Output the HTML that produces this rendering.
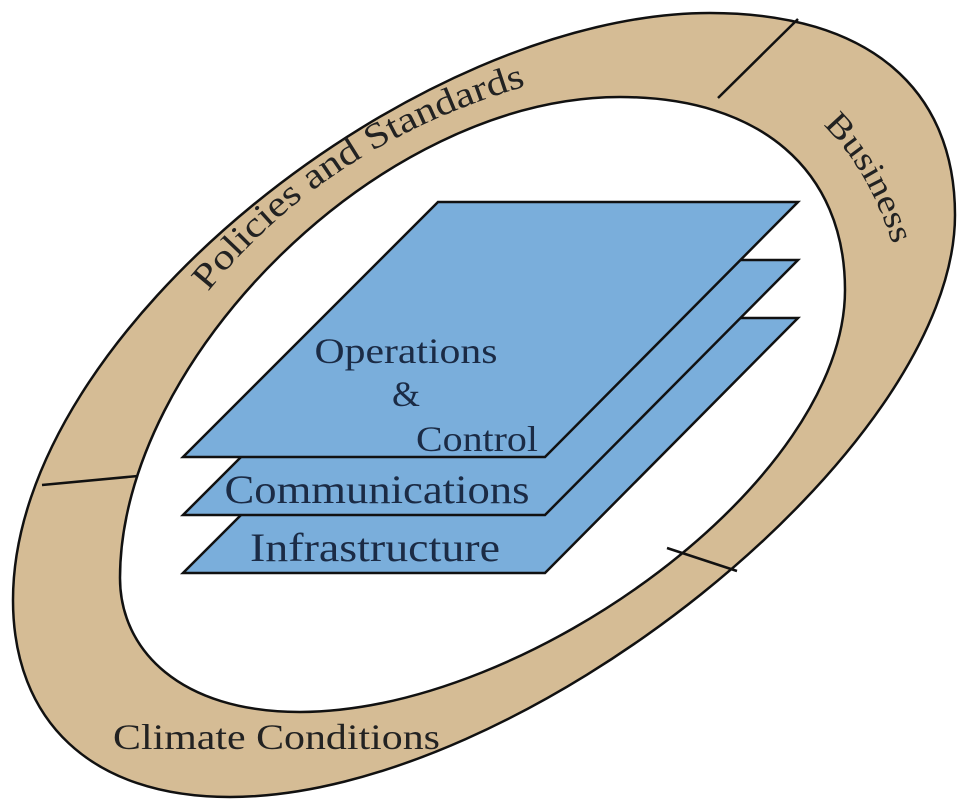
<!DOCTYPE html>
<html><head><meta charset="utf-8"><style>
html,body{margin:0;padding:0;background:#fff;}
svg{display:block;}
text{font-family:"Liberation Serif",serif;}
</style></head><body>
<svg width="965" height="810" viewBox="0 0 965 810" xmlns="http://www.w3.org/2000/svg">
<path fill-rule="evenodd" fill="#d5bc95" stroke="#111" stroke-width="2.5"
 d="M 710 13 C 870 13, 955 90, 955 215 C 955 450, 520 797, 230 797 C 90 797, 13 720, 13 600 C 13 330, 420 13, 710 13 Z
    M 620 97 C 760 97, 845 170, 845 290 C 845 480, 530 711, 300 712 C 180 712, 120 650, 120 578 C 120 360, 380 97, 620 97 Z"/>
<line x1="798" y1="19" x2="718" y2="98" stroke="#111" stroke-width="2.5"/>
<line x1="42" y1="485" x2="138" y2="476" stroke="#111" stroke-width="2.5"/>
<line x1="667" y1="548" x2="737" y2="571" stroke="#111" stroke-width="2.5"/>

<g fill="#7aaedb" stroke="#111" stroke-width="2.5" stroke-linejoin="miter">
<polygon points="438,318 798,318 545,573 183,573"/>
<polygon points="438,260 798,260 545,515 183,515"/>
<polygon points="438,202 798,202 545,457 183,457"/>
</g>
<g fill="#1b2b45">
<text x="406" y="363" font-size="36" text-anchor="middle" textLength="183" lengthAdjust="spacingAndGlyphs">Operations</text>
<text x="406" y="406" font-size="36" text-anchor="middle">&amp;</text>
<text x="538" y="451" font-size="36" text-anchor="end" textLength="122" lengthAdjust="spacingAndGlyphs">Control</text>
<text x="377" y="503" font-size="40" text-anchor="middle" textLength="305" lengthAdjust="spacingAndGlyphs">Communications</text>
<text x="375" y="561" font-size="40" text-anchor="middle" textLength="250" lengthAdjust="spacingAndGlyphs">Infrastructure</text>
</g>

<defs>
<path id="p1" d="M 208 292 Q 330 140 540 82"/>
<path id="p2" d="M 823 125 Q 870 170 895 252"/>
</defs>
<g fill="#222">
<text font-size="36"><textPath href="#p1" textLength="385" lengthAdjust="spacingAndGlyphs">Policies and Standards</textPath></text>
<text font-size="34"><textPath href="#p2" textLength="140" lengthAdjust="spacingAndGlyphs">Business</textPath></text>
<text x="113" y="749" font-size="36" textLength="327" lengthAdjust="spacingAndGlyphs">Climate Conditions</text>
</g>
</svg>
</body></html>
